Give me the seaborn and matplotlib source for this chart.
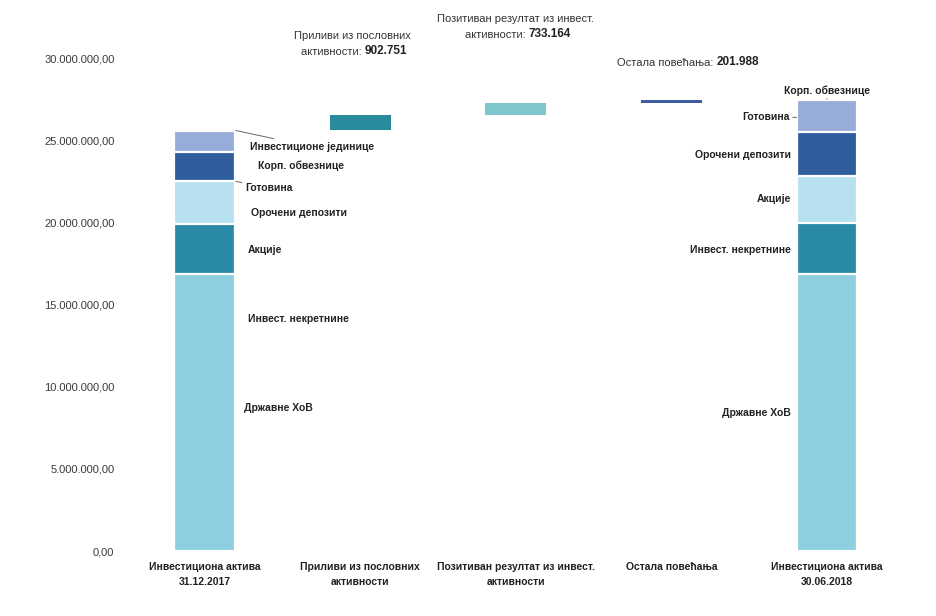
import numpy as np
import pandas as pd
import matplotlib
matplotlib.use("Agg")
import matplotlib.pyplot as plt
import seaborn as sns

# ---------------- data ----------------
categories = [
    "Инвестициона актива\n31.12.2017",
    "Приливи из пословних\nактивности",
    "Позитиван резултат из инвест.\nактивности",
    "Остала повећања",
    "Инвестициона актива\n30.06.2018",
]
series = ["Државне ХоВ", "Инвест. некретнине", "Акције", "Орочени депозити",
          "Готовина", "Корп. обвезнице", "Инвестиционе јединице"]
start_values = [16.86e6, 3.04e6, 2.62e6, 1.76e6, 1.30e6, 0.02e6, 0.04e6]
end_values = [16.89e6, 3.07e6, 2.86e6, 2.71e6, 1.90e6, 0.05e6, 0.0]
flow_values = [902751, 733164, 201988]
flow_labels = ["Приливи из пословних\nактивности: ", "Позитиван резултат из инвест.\nактивности: ",
               "Остала повећања: "]
yticks = [0, 5e6, 10e6, 15e6, 20e6, 25e6, 30e6]

seg_colors = ["#8dcfdf", "#2b8aa6", "#b7e1ee", "#2f5c9d", "#98acd9", "#7f96cc", "#a9b6dd"]
flow_colors = ["#2a8b9c", "#7ec6cc", "#3c5ca4"]

# ---------------- figure ----------------
sns.set_theme(style="white")
plt.rcParams["font.family"] = ["Liberation Sans Narrow", "Liberation Sans", "DejaVu Sans"]

fig = plt.figure(figsize=(9.37, 6.16), dpi=100)
ax = fig.add_axes([0.1355, 0.1055, 0.830, 0.880])

bw = 0.39

# stacked end bars (overlay cumulative totals from top down)
cum_start = np.cumsum(start_values)
cum_end = np.cumsum(end_values)
for i in range(len(series) - 1, -1, -1):
    df = pd.DataFrame({"cat": categories,
                       "val": [cum_start[i], 0, 0, 0, cum_end[i]]})
    sns.barplot(data=df, x="cat", y="val", order=categories, color=seg_colors[i],
                saturation=1, width=bw, edgecolor="white", linewidth=1.6, ax=ax,
                errorbar=None)

# floating waterfall bars
base = cum_start[-1]
for k, v in enumerate(flow_values):
    top = base + v
    vals = [0, 0, 0, 0, 0]
    vals[k + 1] = top
    df = pd.DataFrame({"cat": categories, "val": vals})
    sns.barplot(data=df, x="cat", y="val", order=categories, color=flow_colors[k],
                saturation=1, width=bw, linewidth=0, ax=ax, errorbar=None)
    vals2 = [0, 0, 0, 0, 0]
    vals2[k + 1] = base
    df2 = pd.DataFrame({"cat": categories, "val": vals2})
    sns.barplot(data=df2, x="cat", y="val", order=categories, color="white",
                saturation=1, width=bw + 0.02, linewidth=0, ax=ax, errorbar=None)
    base = top

ax.set_ylim(0, 33e6)
ax.set_xlim(-0.5, 4.5)
ax.set_yticks(yticks)
ax.set_yticklabels([f"{v:,.2f}".replace(",", "X").replace(".", ",").replace("X", ".")
                    for v in yticks], fontsize=8, color="#3a3a3a")
ax.set_xticks(range(len(categories)))
ax.set_xticklabels(categories, fontsize=7.5, fontweight="bold", color="#222222",
                   linespacing=1.6)
ax.tick_params(axis="both", length=0)
ax.tick_params(axis="y", pad=9)
ax.tick_params(axis="x", pad=8)
ax.set_xlabel("")
ax.set_ylabel("")
for s in ax.spines.values():
    s.set_visible(False)
ax.grid(False)

# annotations above floating bars
ann_pos = [(0.95, 30.05e6), (2.0, 31.1e6), (3.13, 29.4e6)]
afs = 8
for (x, y), lab, v in zip(ann_pos, flow_labels, flow_values):
    num = f"{v:,}".replace(",", ".")
    lines = lab.split("\n")
    if len(lines) == 2:
        ax.text(x, y + 1.0e6, lines[0], ha="center", va="bottom", fontsize=afs,
                color="#333333")
        t1 = ax.text(x + 0.08, y, lines[1], ha="right", va="bottom", fontsize=afs,
                     color="#333333")
    else:
        t1 = ax.text(x + 0.16, y, lines[0], ha="right", va="bottom", fontsize=afs,
                     color="#333333")
    ax.annotate(num, xy=(1, 0), xycoords=t1, va="bottom", ha="left", fontsize=afs + 0.5,
                fontweight="bold", color="#222222")

# segment labels, left bar
lab_kw = dict(fontsize=7.5, fontweight="bold", color="#222222", va="center")
line_kw = dict(arrowstyle="-", color="#666666", lw=0.7, shrinkA=0, shrinkB=0)
ax.annotate("Инвестиционе јединице", xy=(0.2, 25.6e6), xytext=(0.29, 24.6e6),
            arrowprops=line_kw, ha="left", **lab_kw)
ax.text(0.345, 23.45e6, "Корп. обвезнице", ha="left", **lab_kw)
ax.annotate("Готовина", xy=(0.2, 22.5e6), xytext=(0.26, 22.1e6),
            arrowprops=line_kw, ha="left", **lab_kw)
ax.text(0.30, 20.6e6, "Орочени депозити", ha="left", **lab_kw)
ax.text(0.275, 18.3e6, "Акције", ha="left", **lab_kw)
ax.text(0.275, 14.1e6, "Инвест. некретнине", ha="left", **lab_kw)
ax.text(0.255, 8.7e6, "Државне ХоВ", ha="left", **lab_kw)

# segment labels, right bar
ax.annotate("Корп. обвезнице", xy=(4.0, 27.5e6), xytext=(4.0, 28.05e6),
            arrowprops=line_kw, ha="center", **lab_kw)
ax.annotate("Готовина", xy=(3.805, 26.4e6), xytext=(3.76, 26.4e6),
            arrowprops=line_kw, ha="right", **lab_kw)
ax.text(3.77, 24.1e6, "Орочени депозити", ha="right", **lab_kw)
ax.text(3.77, 21.4e6, "Акције", ha="right", **lab_kw)
ax.text(3.77, 18.3e6, "Инвест. некретнине", ha="right", **lab_kw)
ax.text(3.77, 8.4e6, "Државне ХоВ", ha="right", **lab_kw)

fig.savefig("out.png", dpi=100, facecolor="white")
